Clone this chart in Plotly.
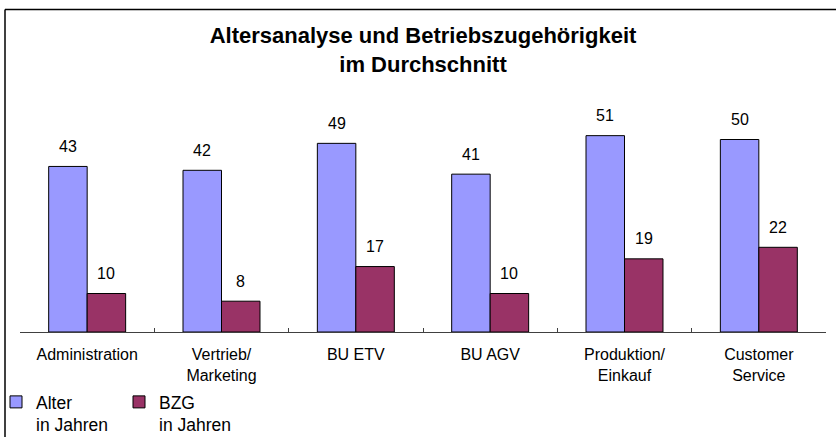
import plotly.graph_objects as go

categories = ["Administration", "Vertrieb/<br>Marketing", "BU ETV", "BU AGV",
              "Produktion/<br>Einkauf", "Customer<br>Service"]
alter = [43, 42, 49, 41, 51, 50]
bzg = [10, 8, 17, 10, 19, 22]
series_names = ["Alter<br>in Jahren", "BZG<br>in Jahren"]
colors = ["#9999FF", "#993366"]

W, H = 836, 437
ML, MR, MT, MB = 20, 10, 101, 105
BARGAP = 0.427
FONT = "Liberation Sans, Arial, sans-serif"

fig = go.Figure()
for name, vals, col in zip(series_names, [alter, bzg], colors):
    fig.add_trace(go.Bar(
        x=categories, y=vals, name=name,
        marker=dict(color=col, line=dict(color="#000000", width=1)),
        hoverinfo="x+y",
    ))

plot_w = W - ML - MR
plot_h = H - MT - MB
cat_px = plot_w / len(categories)
bar_off = (1 - BARGAP) / 4 * cat_px

annotations = []
for vals, sign in [(alter, -1), (bzg, 1)]:
    for c, v in zip(categories, vals):
        annotations.append(dict(
            x=c, y=v, xref="x", yref="y", text=str(v), showarrow=False,
            xshift=sign * bar_off, yshift=20, yanchor="middle",
            font=dict(size=16, color="#000000", family=FONT),
        ))

def px_to_paper_x(px):
    return (px - ML) / plot_w

def px_to_paper_y(py):
    return (H - MB - py) / plot_h

frame_x = px_to_paper_x(5)
frame_top = px_to_paper_y(9.5)
shapes = [
    dict(type="line", xref="paper", yref="paper", x0=frame_x, x1=1.1,
         y0=frame_top, y1=frame_top, line=dict(color="#000000", width=1.5)),
    dict(type="line", xref="paper", yref="paper", x0=frame_x, x1=frame_x,
         y0=frame_top, y1=px_to_paper_y(H + 5), line=dict(color="#000000", width=1.5)),
]

fig.update_layout(
    width=W, height=H,
    margin=dict(l=ML, r=MR, t=MT, b=MB, autoexpand=False),
    paper_bgcolor="#ffffff", plot_bgcolor="#ffffff",
    barmode="group", bargap=BARGAP, bargroupgap=0,
    font=dict(family=FONT, color="#000000", size=16),
    title=dict(
        text="<b>Altersanalyse und Betriebszugehörigkeit<br>im Durchschnitt</b>",
        x=0.5, xref="paper", xanchor="center",
        y=1 - 43 / H, yref="container", yanchor="top",
        font=dict(size=22, family=FONT, color="#000000"),
    ),
    xaxis=dict(
        showline=True, linecolor="#404040", linewidth=1,
        ticks="inside", ticklen=4, tickcolor="#404040", tickson="boundaries",
        tickfont=dict(size=16, family=FONT, color="#000000"),
        ticklabelstandoff=8, showgrid=False, zeroline=False,
    ),
    yaxis=dict(range=[0, 60], visible=False, showgrid=False, zeroline=False),
    legend=dict(
        orientation="h", x=px_to_paper_x(-4), xanchor="left",
        y=px_to_paper_y(H + 6), yanchor="bottom",
        font=dict(size=17.5, family=FONT, color="#000000"),
        valign="top", bgcolor="rgba(0,0,0,0)", traceorder="normal",
        entrywidth=78, entrywidthmode="pixels",
    ),
    annotations=annotations,
    shapes=shapes,
    showlegend=True,
)

fig.write_html("out.html", config={"displayModeBar": False},
               post_script="document.body.style.margin='0';")
